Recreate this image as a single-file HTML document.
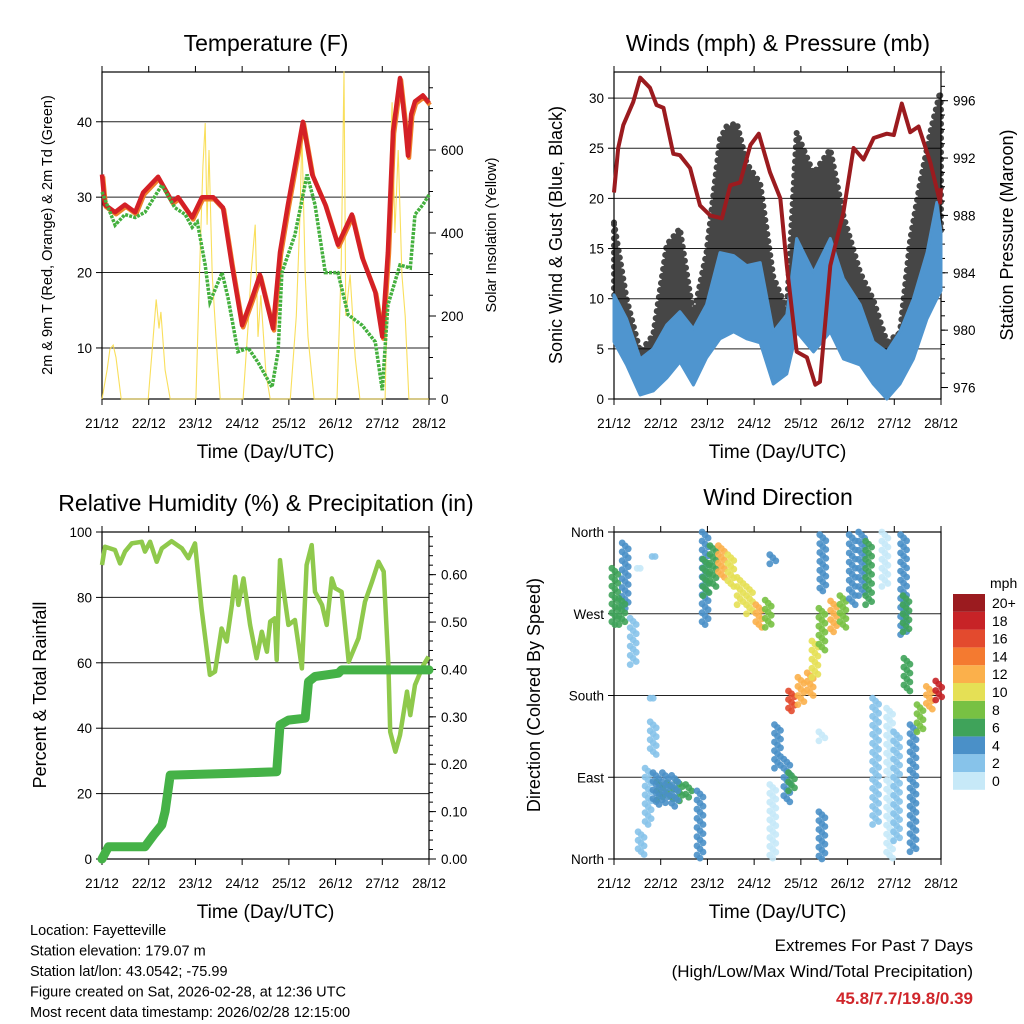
<!DOCTYPE html>
<html><head><meta charset="utf-8"><style>
body{margin:0;background:#fff}
svg{display:block;font-family:"Liberation Sans",sans-serif}
</style></head><body>
<svg id="c" width="1024" height="1024" viewBox="0 0 1024 1024"></svg>
<script>
// ---- data ----
const tempT=[0,.06,.28,.49,.71,.88,1.2,1.5,1.63,1.93,2.14,2.38,2.59,2.78,3.0,3.21,3.38,3.66,3.81,3.98,4.3,4.5,4.78,5.05,5.35,5.57,5.85,6.0,6.12,6.23,6.38,6.49,6.55,6.62,6.7,6.87,7];
const tempV=[33,29,28,29,28,30.6,32.7,29.4,30,27.3,30,30,28.6,21,13,16.6,19.7,12.6,22.7,29,40,33,29,23.7,27.7,22,17.4,11.5,22.7,38.7,45.8,39.6,35.5,41,42.7,43.5,42.5];
const dewT=[0,.28,.49,.71,.92,1.28,1.56,1.78,1.93,2.04,2.21,2.31,2.57,2.7,2.91,3.13,3.34,3.64,3.77,3.85,4.13,4.39,4.56,4.78,5.05,5.27,5.57,5.85,6.0,6.12,6.38,6.6,6.7,6.87,7];
const dewV=[30.7,26.3,27.7,27.3,28,31.6,28.6,27.7,26,26.7,21,16.1,20,16.6,9.5,10,8.1,4.8,9.5,20,25,33,29,20,20,14.4,13,10.8,4.4,15.7,21,20.6,27.7,29,30.3];
const solarT=[0,.11,.17,.24,.3,.41,.99,1.09,1.16,1.22,1.26,1.35,1.46,2.01,2.1,2.16,2.21,2.25,2.29,2.36,2.44,2.53,3.02,3.13,3.19,3.28,3.34,3.4,3.51,3.6,4.03,4.16,4.24,4.28,4.35,4.41,4.54,5.03,5.12,5.18,5.22,5.31,5.42,5.52,6.06,6.15,6.21,6.27,6.34,6.42,6.49,6.57,7];
const solarV=[0,70,120,130,100,0,0,140,240,170,210,70,0,0,350,560,665,420,600,300,150,0,0,180,300,420,150,250,60,0,0,200,450,643,300,150,0,0,320,790,200,300,100,0,0,500,715,400,600,300,200,0,0];
const windT=[0,.27,.56,.84,1.13,1.41,1.7,1.98,2.27,2.56,2.84,3.13,3.41,3.7,3.91,4.27,4.63,4.91,5.27,5.55,5.84,6.12,6.41,6.7,6.91,7];
const windHi=[10.4,8,4,5,7.4,8.7,7,9.4,14.6,14.3,13.3,13.6,6.7,8.4,16,12.6,16,12,9.4,5.7,4.7,6.7,10,14.6,19.6,16.6];
const windLo=[5.7,3.4,.4,.8,2.1,3.7,1.4,4.1,6,6.7,6,5.6,1.5,2.5,6.7,4.7,6.7,4,3.4,1.5,0,1.5,4,8,10,10.8];
const gustT=[0,.27,.56,.84,1.13,1.41,1.7,1.98,2.27,2.41,2.63,2.84,3.13,3.41,3.7,3.91,4.27,4.63,4.91,5.27,5.55,5.84,6.12,6.34,6.55,6.77,6.98,7];
const gustHi=[17.6,10,4.7,6.4,15.4,17,8.3,14.6,25.9,27.2,27.5,23.5,21.5,12.2,8.9,26.6,22.5,24.9,18.3,12.6,9.9,5.7,6.6,15.9,21.5,26.6,30.6,29];
const presT=[0,.09,.2,.41,.56,.77,.91,1.06,1.27,1.41,1.63,1.84,2.06,2.31,2.49,2.7,2.92,3.1,3.34,3.56,3.7,3.91,4.13,4.31,4.41,4.63,4.91,5.13,5.34,5.56,5.84,5.99,6.16,6.34,6.52,6.77,6.98,7];
const presV=[989.6,992.7,994.3,995.9,997.6,996.9,995.7,995.5,992.3,992.2,991.3,988.7,988.0,987.8,990.1,990.3,992.9,993.7,991.0,989.2,984.5,978.5,978.1,976.2,976.4,984.5,988.2,992.7,991.9,993.4,993.7,993.6,995.8,993.8,994.2,991.7,988.9,989.9];
const rhT=[0,.064,.278,.385,.493,.635,.85,.92,1.03,1.17,1.28,1.49,1.71,1.85,1.99,2.13,2.31,2.42,2.56,2.67,2.78,2.85,2.92,3.03,3.17,3.31,3.42,3.53,3.6,3.7,3.74,3.81,3.88,3.99,4.13,4.28,4.38,4.49,4.56,4.71,4.81,4.92,4.99,5.13,5.28,5.49,5.63,5.78,5.92,6.03,6.13,6.17,6.28,6.38,6.53,6.6,6.7,6.88,6.99];
const rhV=[89.9,95.5,94.5,90.4,94,96.5,97,94,97,90.9,95,97.2,95,92,96.5,76.7,56.3,57.3,70.5,66.5,77.7,86.3,77.7,85.8,71.6,61.4,69.5,63.4,72.6,73.6,60.9,91.4,82.8,71.6,73.1,58.3,89.9,96,81.7,77.7,71.6,85.8,82.8,81.7,60.3,67.5,78.7,84.8,90.9,87.9,59.3,38.9,32.8,37.9,51.2,44,53.2,59.3,61.9];
const pcpT=[0,.14,.92,1.1,1.28,1.35,1.46,2.85,3.74,3.81,3.99,4.35,4.42,4.56,5.06,5.13,7];
const pcpV=[0,.026,.026,.05,.072,.1,.177,.181,.184,.283,.293,.297,.374,.385,.392,.399,.399];
// wind direction clusters: time, dir low, dir high, speed
const dirT=[0.02,0.24,0.17,0.41,0.88,0.56,0.84,0.84,0.73,0.58,0.98,1.2,1.4,1.6,0.9,1.1,1.3,1.84,1.95,1.97,2.12,2.3,2.5,2.7,2.9,3.1,3.3,3.4,3.4,3.5,3.7,3.8,3.8,4.0,4.2,4.3,4.45,4.47,4.45,4.45,4.7,4.9,5.1,5.3,5.45,5.6,5.8,5.9,6.05,6.2,6.25,6.27,6.4,6.55,6.75,6.95];
const dirLo=[258,276,258,214,333,320,115,177,38,5,65,66,64,68,60,62,58,1,258,290,300,310,300,280,270,255,255,325,1,100,63,75,163,170,180,200,230,295,0,130,250,255,280,290,280,38,300,1,20,247,250,185,8,140,165,175];
const dirHi=[320,348,287,265,333,320,151,177,100,30,85,84,86,82,95,95,92,75,360,330,345,345,335,310,300,280,285,335,82,148,110,95,185,200,205,240,276,357,52,140,284,290,357,360,350,177,360,166,140,357,290,221,148,170,190,196];
const dirSpd=[7,5,7,3,3,1,2,3,2,2,7,7,7,7,4,4,4,4,4,6,7,12,11,10,11,13,8,4,1,4,5,7,16,13,12,10,8,5,4,1,12,9,5,5,6,3,1,1,2,4,7,6,4,9,13,18];
const cbarLabels=['0','2','4','6','8','10','12','14','16','18','20+'];
const cbarColors=['#c7e9f8','#87c3ea','#4a90c8','#3fa35a','#78c143','#e5e055','#fbb04b','#f47a30','#e34a2e','#c72327','#9b1b1f'];

const svg=document.getElementById('c');
const NS='http://www.w3.org/2000/svg';
function el(tag,attrs,parent,txt){const e=document.createElementNS(NS,tag);for(const k in attrs)e.setAttribute(k,attrs[k]);if(txt!==undefined)e.textContent=txt;(parent||svg).appendChild(e);return e;}
function grp(name){const g=el('g',{});return g;}
function sc(d0,d1,r0,r1){return v=>r0+(v-d0)/(d1-d0)*(r1-r0);}
function pathD(T,V,xs,ys){return T.map((t,i)=>(i?'L':'M')+xs(t).toFixed(1)+','+ys(V[i]).toFixed(1)).join('');}
const days=['21/12','22/12','23/12','24/12','25/12','26/12','27/12','28/12'];

function frame(P,name){
  const g=grp(name+'-axes');
  for(let i=0;i<=7;i++){const x=P.xs(i);
    el('line',{x1:x,x2:x,y1:P.y1,y2:P.y1+6,stroke:'#000'},g);
    el('line',{x1:x,x2:x,y1:P.y0,y2:P.y0-6,stroke:'#000'},g);
    const t=el('text',{x:x,y:P.y1+29,'font-size':13.5,'text-anchor':'middle'},g,days[i]);
    
  }
  const xt=el('text',{x:(P.x0+P.x1)/2,y:P.y1+59,'font-size':19,'text-anchor':'middle'},g,'Time (Day/UTC)');
  
  return g;
}
function border(P,g){el('rect',{x:P.x0,y:P.y0,width:P.x1-P.x0,height:P.y1-P.y0,fill:'none',stroke:'#000','stroke-width':1.2},g);}
function title(x,y,txt,name){const t=el('text',{x:x,y:y,'font-size':23,'text-anchor':'middle'},svg,txt);}
function vlabel(x,y,txt,size,name){const t=el('text',{x:x,y:y,'font-size':size,'text-anchor':'middle',transform:`rotate(-90 ${x} ${y})`},svg,txt);}
function leftTicks(P,vals,ysL,labels,g,grid){vals.forEach((v,i)=>{const y=ysL(v);
  if(grid)el('line',{x1:P.x0,x2:P.x1,y1:y,y2:y,stroke:'#222','stroke-width':1},g);
  el('line',{x1:P.x0-6,x2:P.x0,y1:y,y2:y,stroke:'#000'},g);
  const t=el('text',{x:P.x0-10,y:y+5,'font-size':13.5,'text-anchor':'end'},g,labels[i]);});}
function rightTicks(P,vals,ysR,labels,minor,g){minor.forEach(v=>{const y=ysR(v);el('line',{x1:P.x1,x2:P.x1+4,y1:y,y2:y,stroke:'#000'},g);});
  vals.forEach((v,i)=>{const y=ysR(v);el('line',{x1:P.x1,x2:P.x1+7,y1:y,y2:y,stroke:'#000'},g);
  const t=el('text',{x:P.x1+12,y:y+5,'font-size':13.5,'text-anchor':'start'},g,labels[i]);});}
function mk(x0,x1,y0,y1){return {x0,x1,y0,y1,xs:sc(0,7,x0,x1)};}
function range(a,b,s){const r=[];for(let v=a;v<=b+1e-9;v+=s)r.push(+v.toFixed(3));return r;}

// ===== Panel 1: Temperature =====
const P1=mk(102,429,72,399);
const y1L=sc(3.23,46.6,399,72), y1R=sc(0,788,399,72);
title(266,51,'Temperature (F)','temperature-title');
let g=frame(P1,'temperature');
leftTicks(P1,[10,20,30,40],y1L,['10','20','30','40'],g,true);
rightTicks(P1,[0,200,400,600],y1R,['0','200','400','600'],range(0,750,50),g);
vlabel(52,235,'2m & 9m T (Red, Orange) & 2m Td (Green)',14.5,'temperature-y-axis-title');
vlabel(496,235,'Solar Insolation (Yellow)',14.5,'solar-y-axis-title');
let s=el('path',{d:pathD(solarT,solarV,P1.xs,y1R),fill:'none',stroke:'#f8dc4a','stroke-width':1.1,opacity:.9});

s=el('path',{d:pathD(tempT,tempV,P1.xs,y1L),fill:'none',stroke:'#f0802a','stroke-width':4.5,'stroke-linejoin':'round',transform:'translate(1,2)'});

s=el('path',{d:pathD(tempT,tempV,P1.xs,y1L),fill:'none',stroke:'#d42026','stroke-width':4.5,'stroke-linejoin':'round'});

s=el('path',{d:pathD(dewT,dewV,P1.xs,y1L),fill:'none',stroke:'#44b03e','stroke-width':3.5,'stroke-dasharray':'3 1.2'});

border(P1,g);

// ===== Panel 2: Winds & pressure =====
const P2=mk(614,941,72,399);
const y2L=sc(0,32.6,399,72), y2R=sc(975.2,998.0,399,72);
title(778,51,'Winds (mph) & Pressure (mb)','winds-title');
g=frame(P2,'winds');
leftTicks(P2,[0,5,10,15,20,25,30],y2L,['0','5','10','15','20','25','30'],g,true);
rightTicks(P2,[976,980,984,988,992,996],y2R,['976','980','984','988','992','996'],range(976,998,1),g);
vlabel(562,235,'Sonic Wind & Gust (Blue, Black)',18,'wind-y-axis-title');
vlabel(1013,235,'Station Pressure (Maroon)',18,'pressure-y-axis-title');
const gustArea='M'+gustT.map((t,i)=>P2.xs(t).toFixed(1)+','+y2L(gustHi[i]).toFixed(1)).join('L')+'L'+windT.slice().reverse().map((t,i)=>P2.xs(t).toFixed(1)+','+y2L(windHi[windT.length-1-i]).toFixed(1)).join('L')+'Z';
s=el('path',{d:gustArea,fill:'#000',opacity:.72,stroke:'#000','stroke-width':6,'stroke-dasharray':'0.1 7','stroke-linecap':'round'});

const windArea='M'+windT.map((t,i)=>P2.xs(t).toFixed(1)+','+y2L(windHi[i]).toFixed(1)).join('L')+'L'+windT.slice().reverse().map((t,i)=>P2.xs(t).toFixed(1)+','+y2L(windLo[windT.length-1-i]).toFixed(1)).join('L')+'Z';
s=el('path',{d:windArea,fill:'#4f95cf',stroke:'#4f95cf','stroke-width':3,'stroke-linejoin':'round'});

s=el('path',{d:pathD(presT,presV,P2.xs,y2R),fill:'none',stroke:'#9b1b1f','stroke-width':4,'stroke-linejoin':'round'});

border(P2,g);

// ===== Panel 3: RH & precip =====
const P3=mk(102,429,532,859);
const y3L=sc(0,100,859,532), y3R=sc(0,0.69,859,532);
title(266,511,'Relative Humidity (%) & Precipitation (in)','humidity-title');
g=frame(P3,'humidity');
leftTicks(P3,[0,20,40,60,80,100],y3L,['0','20','40','60','80','100'],g,true);
rightTicks(P3,range(0,0.6,0.1),y3R,['0.00','0.10','0.20','0.30','0.40','0.50','0.60'],range(0,0.68,0.02),g);
vlabel(46,695,'Percent & Total Rainfall',18,'humidity-y-axis-title');
s=el('path',{d:pathD(rhT,rhV,P3.xs,y3L),fill:'none',stroke:'#8fc94c','stroke-width':4.5,'stroke-linejoin':'round'});

s=el('path',{d:pathD(pcpT,pcpV,P3.xs,y3R),fill:'none',stroke:'#45b247','stroke-width':9,'stroke-linejoin':'round','stroke-linecap':'round'});

border(P3,g);

// ===== Panel 4: wind direction =====
const P4=mk(614,941,532,859);
const y4=sc(0,360,859,532);
title(778,505,'Wind Direction','wind-direction-title');
g=frame(P4,'wind-direction');
leftTicks(P4,[0,90,180,270,360],y4,['North','East','South','West','North'],g,true);
vlabel(540,695,'Direction (Colored By Speed)',18,'direction-y-axis-title');
const dg=grp('wind-direction-points');
dirT.forEach((t,i)=>{
  const x=P4.xs(t), c=cbarColors[Math.min(10,Math.floor(dirSpd[i]/2))];
  const yA=y4(dirHi[i]), yB=y4(dirLo[i]);
  const n=Math.max(1,Math.round((yB-yA)/3));
  for(let k=0;k<=n;k++){
    const y=yA+(yB-yA)*k/n;
    el('circle',{cx:(x+((k%3)-1)*3).toFixed(1),cy:y.toFixed(1),r:3.4,fill:c,opacity:.9},dg);
  }
});
border(P4,g);
// colorbar
const cb=grp('speed-colorbar');
cbarLabels.forEach((lab,i)=>{
  const y=594+(10-i)*17.8;
  el('rect',{x:953,y:y,width:32,height:17.8,fill:cbarColors[i]},cb);
  const t=el('text',{x:992,y:y+14,'font-size':14},cb,lab);
  
});
let t=el('text',{x:990,y:588,'font-size':14},cb,'mph');

// footer text
const info=['Location: Fayetteville','Station elevation: 179.07 m','Station lat/lon: 43.0542; -75.99','Figure created on Sat, 2026-02-28, at 12:36 UTC','Most recent data timestamp: 2026/02/28 12:15:00'];
const ig=grp('station-info');
info.forEach((l,i)=>{el('text',{x:30,y:935+i*20.5,'font-size':14.5},ig,l);});
const eg=grp('extremes-summary');
el('text',{x:973,y:951,'font-size':17,'text-anchor':'end'},eg,'Extremes For Past 7 Days');
el('text',{x:973,y:977,'font-size':17,'text-anchor':'end'},eg,'(High/Low/Max Wind/Total Precipitation)');
el('text',{x:973,y:1004,'font-size':17,'font-weight':'bold','text-anchor':'end',fill:'#d0262b'},eg,'45.8/7.7/19.8/0.39');
</script>
</body></html>
